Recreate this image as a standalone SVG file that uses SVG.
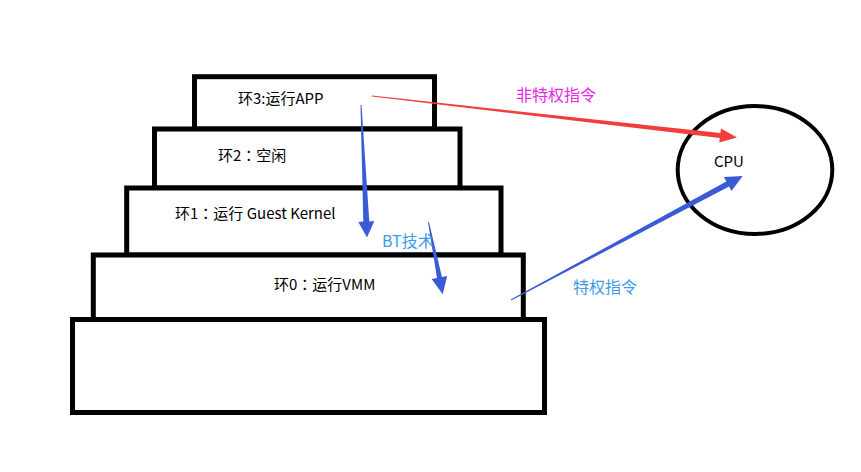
<svg xmlns="http://www.w3.org/2000/svg" width="861" height="472" viewBox="0 0 861 472">
<style>
.box{fill:#fff;stroke:#000;stroke-width:5}
.t{font-family:"Noto Sans CJK SC","Noto Sans",sans-serif;font-size:15px;fill:#000}
.c{font-family:"Noto Sans CJK TC","Noto Sans CJK SC",sans-serif}
.lb{font-family:"Noto Sans CJK SC","Noto Sans",sans-serif;font-size:16px}
.red{fill:#f23d3d}
.blue{fill:#3a5bd6}
</style>
<rect width="861" height="472" fill="#fff"/>
<g id="ring3"><rect class="box" x="194.5" y="76.7" width="240" height="52.3"/><text class="t" x="238" y="104">环3:运行APP</text></g>
<g id="ring2"><rect class="box" x="154.5" y="129" width="305.5" height="59"/><text class="t" x="218" y="161">环2<tspan class="c">：</tspan>空闲</text></g>
<g id="ring1"><rect class="box" x="126.7" y="188" width="374.3" height="67"/><text class="t" x="175" y="219">环1<tspan class="c">：</tspan>运行 Guest Kernel</text></g>
<g id="ring0"><rect class="box" x="93.3" y="255" width="430" height="64.5"/><text class="t" x="274" y="290">环0<tspan class="c">：</tspan>运行VMM</text></g>
<g id="base"><rect class="box" x="72.5" y="319.5" width="472" height="93"/></g>
<g id="cpu"><ellipse cx="755" cy="170" rx="77.3" ry="64" fill="#fff" stroke="#000" stroke-width="4"/><text class="t" x="714" y="167">CPU</text></g>
<g id="connectors">
<polygon class="red" points="372.06,95.5 720.4,133.1 720.9,128.6 737,137.5 719.3,142.6 719.8,138.1 371.9,96.5"/>
<polygon class="blue" points="361.5,105 369.3,221.4 374.3,221.1 367,237.5 358.3,221.9 363.3,221.6 360.5,105"/>
<polygon class="blue" points="429,221.9 441.9,277.1 447.2,276.1 442.7,294.3 431.6,279.1 437,278.1 428,222.1"/>
<polygon class="blue" points="510.76,299.56 726.3,181.4 723.9,176.9 742.7,176 731.5,191.1 729.1,186.6 511.24,300.44"/>
<text class="lb" x="516" y="101" fill="#e626e6">非特权指令</text>
<text class="lb" x="382" y="247" fill="#3d9be9">BT技术</text>
<text class="lb" x="573" y="293" fill="#3d9be9">特权指令</text>
</g>
</svg>
